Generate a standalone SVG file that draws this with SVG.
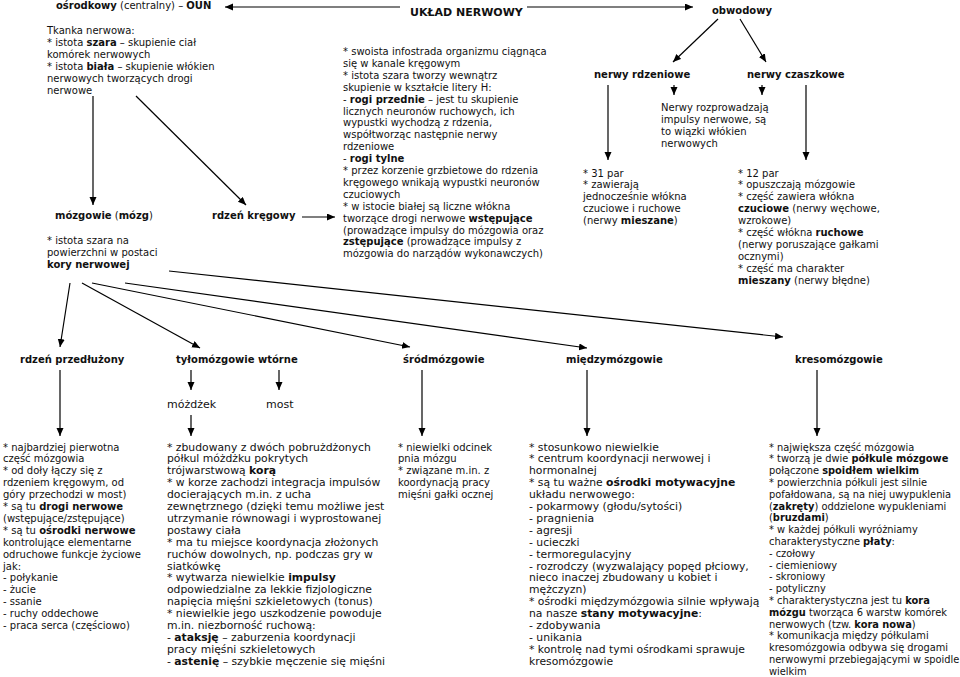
<svg xmlns="http://www.w3.org/2000/svg" width="960" height="677" viewBox="0 0 960 677">
<defs>
<marker id="ah" markerUnits="userSpaceOnUse" markerWidth="9" markerHeight="8" refX="8" refY="3.5" orient="auto">
<path d="M0,0 L8,3.5 L0,7 Z" fill="#000"/>
</marker>
<style>
text{font-family:"DejaVu Sans",Verdana,sans-serif;font-size:10px;fill:#111}
.b{font-weight:bold}
.h{font-weight:bold;font-size:10px}
.big{font-weight:bold;font-size:11px}
.m{font-size:11px}
.c11{font-size:10.8px}
.c99{font-size:9.85px}
.con line{stroke:#000;stroke-width:1.2;fill:none;marker-end:url(#ah)}
</style>
</defs>
<rect width="960" height="677" fill="#fff"/>

<g id="uklad"><text x="410" y="16" class="big">UKŁAD NERWOWY</text></g>
<g id="oun"><text x="56" y="9"><tspan class="b">ośrodkowy</tspan> (centralny) – <tspan class="b">OUN</tspan></text></g>
<g id="obwodowy"><text x="712" y="14" class="h">obwodowy</text></g>

<g id="tkanka"><text>
<tspan x="47" y="34">Tkanka nerwowa:</tspan>
<tspan x="47" y="45.9">* istota <tspan class="b">szara</tspan> – skupienie ciał</tspan>
<tspan x="47" y="57.8">komórek nerwowych</tspan>
<tspan x="47" y="69.7">* istota <tspan class="b">biała</tspan> – skupienie włókien</tspan>
<tspan x="47" y="81.6">nerwowych tworzących drogi</tspan>
<tspan x="47" y="93.5">nerwowe</tspan>
</text></g>

<g id="mozgowie"><text x="55" y="219"><tspan class="b">mózgowie</tspan> (<tspan class="b">mózg</tspan>)</text>
<text>
<tspan x="47" y="244">* istota szara na</tspan>
<tspan x="47" y="255.9">powierzchni w postaci</tspan>
<tspan x="47" y="267.8" class="b">kory nerwowej</tspan>
</text></g>

<g id="rdzen"><text x="212" y="219" class="h">rdzeń kręgowy</text>
<text>
<tspan x="343" y="55">* swoista infostrada organizmu ciągnąca</tspan>
<tspan x="343" y="66.9">się w kanale kręgowym</tspan>
<tspan x="343" y="78.8">* istota szara tworzy wewnątrz</tspan>
<tspan x="343" y="90.7">skupienie w kształcie litery H:</tspan>
<tspan x="343" y="102.6">- <tspan class="b">rogi przednie</tspan> – jest tu skupienie</tspan>
<tspan x="343" y="114.5">licznych neuronów ruchowych, ich</tspan>
<tspan x="343" y="126.4">wypustki wychodzą z rdzenia,</tspan>
<tspan x="343" y="138.3">współtworząc następnie nerwy</tspan>
<tspan x="343" y="150.2">rdzeniowe</tspan>
<tspan x="343" y="162.1">- <tspan class="b">rogi tylne</tspan></tspan>
<tspan x="343" y="174">* przez korzenie grzbietowe do rdzenia</tspan>
<tspan x="343" y="185.9">kręgowego wnikają wypustki neuronów</tspan>
<tspan x="343" y="197.8">czuciowych</tspan>
<tspan x="343" y="209.7">* w istocie białej są liczne włókna</tspan>
<tspan x="343" y="221.6">tworzące drogi nerwowe <tspan class="b">wstępujące</tspan></tspan>
<tspan x="343" y="233.5">(prowadzące impulsy do mózgowia oraz</tspan>
<tspan x="343" y="245.4"><tspan class="b">zstępujące</tspan> (prowadzące impulsy z</tspan>
<tspan x="343" y="257.3">mózgowia do narządów wykonawczych)</tspan>
</text></g>

<g id="nerwy-rdzeniowe"><text x="594" y="78" class="h">nerwy rdzeniowe</text>
<text>
<tspan x="583" y="176.5">* 31 par</tspan>
<tspan x="583" y="188.4">* zawierają</tspan>
<tspan x="583" y="200.3">jednocześnie włókna</tspan>
<tspan x="583" y="212.2">czuciowe i ruchowe</tspan>
<tspan x="583" y="224.1">(nerwy <tspan class="b">mieszane</tspan>)</tspan>
</text></g>

<g id="nerwy-czaszkowe"><text x="747" y="78" class="h">nerwy czaszkowe</text>
<text>
<tspan x="738" y="176.5">* 12 par</tspan>
<tspan x="738" y="188.4">* opuszczają mózgowie</tspan>
<tspan x="738" y="200.3">* część zawiera włókna</tspan>
<tspan x="738" y="212.2"><tspan class="b">czuciowe</tspan> (nerwy węchowe,</tspan>
<tspan x="738" y="224.1">wzrokowe)</tspan>
<tspan x="738" y="236">* część włókna <tspan class="b">ruchowe</tspan></tspan>
<tspan x="738" y="247.9">(nerwy poruszające gałkami</tspan>
<tspan x="738" y="259.8">ocznymi)</tspan>
<tspan x="738" y="271.7">* część ma charakter</tspan>
<tspan x="738" y="283.6"><tspan class="b">mieszany</tspan> (nerwy błędne)</tspan>
</text></g>

<g id="nerwy-opis"><text>
<tspan x="661" y="111">Nerwy rozprowadzają</tspan>
<tspan x="661" y="122.9">impulsy nerwowe, są</tspan>
<tspan x="661" y="134.8">to wiązki włókien</tspan>
<tspan x="661" y="146.7">nerwowych</tspan>
</text></g>

<g id="rdzen-przedluzony"><text x="20" y="363" class="h">rdzeń przedłużony</text>
<text>
<tspan x="3" y="450.5">* najbardziej pierwotna</tspan>
<tspan x="3" y="462.4">część mózgowia</tspan>
<tspan x="3" y="474.3">* od doły łączy się z</tspan>
<tspan x="3" y="486.2">rdzeniem kręgowym, od</tspan>
<tspan x="3" y="498.1">góry przechodzi w most)</tspan>
<tspan x="3" y="510">* są tu <tspan class="b">drogi nerwowe</tspan></tspan>
<tspan x="3" y="521.9">(wstępujące/zstępujące)</tspan>
<tspan x="3" y="533.8">* są tu <tspan class="b">ośrodki nerwowe</tspan></tspan>
<tspan x="3" y="545.7">kontrolujące elementarne</tspan>
<tspan x="3" y="557.6">odruchowe funkcje życiowe</tspan>
<tspan x="3" y="569.5">jak:</tspan>
<tspan x="3" y="581.4">- połykanie</tspan>
<tspan x="3" y="593.3">- żucie</tspan>
<tspan x="3" y="605.2">- ssanie</tspan>
<tspan x="3" y="617.1">- ruchy oddechowe</tspan>
<tspan x="3" y="629">- praca serca (częściowo)</tspan>
</text></g>

<g id="tylomozgowie"><text x="176" y="363" class="h">tyłomózgowie wtórne</text></g>
<g id="most"><text x="266" y="408" class="m">most</text></g>
<g id="mozdzek"><text x="167" y="408" class="m">móżdżek</text>
<text class="c11">
<tspan x="167" y="450.5">* zbudowany z dwóch pobrużdżonych</tspan>
<tspan x="167" y="462.4">półkul móżdżku pokrytych</tspan>
<tspan x="167" y="474.3">trójwarstwową <tspan class="b">korą</tspan></tspan>
<tspan x="167" y="486.2">* w korze zachodzi integracja impulsów</tspan>
<tspan x="167" y="498.1">docierających m.in. z ucha</tspan>
<tspan x="167" y="510">zewnętrznego (dzięki temu możliwe jest</tspan>
<tspan x="167" y="521.9">utrzymanie równowagi i wyprostowanej</tspan>
<tspan x="167" y="533.8">postawy ciała</tspan>
<tspan x="167" y="545.7">* ma tu miejsce koordynacja złożonych</tspan>
<tspan x="167" y="557.6">ruchów dowolnych, np. podczas gry w</tspan>
<tspan x="167" y="569.5">siatkówkę</tspan>
<tspan x="167" y="581.4">* wytwarza niewielkie <tspan class="b">impulsy</tspan></tspan>
<tspan x="167" y="593.3">odpowiedzialne za lekkie fizjologiczne</tspan>
<tspan x="167" y="605.2">napięcia mięśni szkieletowych (tonus)</tspan>
<tspan x="167" y="617.1">* niewielkie jego uszkodzenie powoduje</tspan>
<tspan x="167" y="629">m.in. niezborność ruchową:</tspan>
<tspan x="167" y="640.9">- <tspan class="b">ataksję</tspan> – zaburzenia koordynacji</tspan>
<tspan x="167" y="652.8">pracy mięśni szkieletowych</tspan>
<tspan x="167" y="664.7">- <tspan class="b">astenię</tspan> – szybkie męczenie się mięśni</tspan>
</text></g>

<g id="srodmozgowie"><text x="403" y="363" class="h">śródmózgowie</text>
<text>
<tspan x="398" y="450.5">* niewielki odcinek</tspan>
<tspan x="398" y="462.4">pnia mózgu</tspan>
<tspan x="398" y="474.3">* związane m.in. z</tspan>
<tspan x="398" y="486.2">koordynacją pracy</tspan>
<tspan x="398" y="498.1">mięśni gałki ocznej</tspan>
</text></g>

<g id="miedzymozgowie"><text x="566" y="363" class="h">międzymózgowie</text>
<text class="c11">
<tspan x="529" y="450.5">* stosunkowo niewielkie</tspan>
<tspan x="529" y="462.4">* centrum koordynacji nerwowej i</tspan>
<tspan x="529" y="474.3">hormonalnej</tspan>
<tspan x="529" y="486.2">* są tu ważne <tspan class="b">ośrodki motywacyjne</tspan></tspan>
<tspan x="529" y="498.1">układu nerwowego:</tspan>
<tspan x="529" y="510">- pokarmowy (głodu/sytości)</tspan>
<tspan x="529" y="521.9">- pragnienia</tspan>
<tspan x="529" y="533.8">- agresji</tspan>
<tspan x="529" y="545.7">- ucieczki</tspan>
<tspan x="529" y="557.6">- termoregulacyjny</tspan>
<tspan x="529" y="569.5">- rozrodczy (wyzwalający popęd płciowy,</tspan>
<tspan x="529" y="581.4">nieco inaczej zbudowany u kobiet i</tspan>
<tspan x="529" y="593.3">mężczyzn)</tspan>
<tspan x="529" y="605.2">* ośrodki międzymózgowia silnie wpływają</tspan>
<tspan x="529" y="617.1">na nasze <tspan class="b">stany motywacyjne</tspan>:</tspan>
<tspan x="529" y="629">- zdobywania</tspan>
<tspan x="529" y="640.9">- unikania</tspan>
<tspan x="529" y="652.8">* kontrolę nad tymi ośrodkami sprawuje</tspan>
<tspan x="529" y="664.7">kresomózgowie</tspan>
</text></g>

<g id="kresomozgowie"><text x="795" y="363" class="h">kresomózgowie</text>
<text class="c99">
<tspan x="769" y="450.5">* największa część mózgowia</tspan>
<tspan x="769" y="462.3">* tworzą je dwie <tspan class="b">półkule mózgowe</tspan></tspan>
<tspan x="769" y="474.1">połączone <tspan class="b">spoidłem wielkim</tspan></tspan>
<tspan x="769" y="485.9">* powierzchnia półkuli jest silnie</tspan>
<tspan x="769" y="497.7">pofałdowana, są na niej uwypuklenia</tspan>
<tspan x="769" y="509.5">(<tspan class="b">zakręty</tspan>) oddzielone wypukleniami</tspan>
<tspan x="769" y="521.3">(<tspan class="b">bruzdami</tspan>)</tspan>
<tspan x="769" y="533.1">* w każdej półkuli wyróżniamy</tspan>
<tspan x="769" y="544.9">charakterystyczne <tspan class="b">płaty</tspan>:</tspan>
<tspan x="769" y="556.7">- czołowy</tspan>
<tspan x="769" y="568.5">- ciemieniowy</tspan>
<tspan x="769" y="580.3">- skroniowy</tspan>
<tspan x="769" y="592.1">- potyliczny</tspan>
<tspan x="769" y="603.9">* charakterystyczna jest tu <tspan class="b">kora</tspan></tspan>
<tspan x="769" y="615.7"><tspan class="b">mózgu</tspan> tworząca 6 warstw komórek</tspan>
<tspan x="769" y="627.5">nerwowych (tzw. <tspan class="b">kora nowa</tspan>)</tspan>
<tspan x="769" y="639.3">* komunikacja między półkulami</tspan>
<tspan x="769" y="651.1">kresomózgowia odbywa się drogami</tspan>
<tspan x="769" y="662.9">nerwowymi przebiegającymi w spoidle</tspan>
<tspan x="769" y="674.7">wielkim</tspan>
</text></g>

<g id="connectors" class="con">
<line x1="400" y1="7" x2="225" y2="7"/>
<line x1="527" y1="7" x2="693" y2="7"/>
<line x1="718" y1="19" x2="673" y2="62"/>
<line x1="740" y1="19" x2="766" y2="62"/>
<line x1="608" y1="85" x2="608" y2="160"/>
<line x1="674" y1="85" x2="674" y2="95"/>
<line x1="762" y1="85" x2="762" y2="95"/>
<line x1="806" y1="85" x2="806" y2="160"/>
<line x1="93" y1="96" x2="93" y2="205"/>
<line x1="136" y1="96" x2="246" y2="205"/>
<line x1="302" y1="217" x2="335" y2="217"/>
<line x1="70" y1="283" x2="60" y2="347"/>
<line x1="82" y1="283" x2="200" y2="348"/>
<line x1="92" y1="283" x2="410" y2="347"/>
<line x1="125" y1="283" x2="587" y2="348"/>
<line x1="169" y1="271" x2="783" y2="337"/>
<line x1="191" y1="370" x2="191" y2="390"/>
<line x1="279" y1="370" x2="279" y2="390"/>
<line x1="60" y1="370" x2="60" y2="436"/>
<line x1="191" y1="415" x2="191" y2="436"/>
<line x1="422" y1="370" x2="422" y2="436"/>
<line x1="587" y1="370" x2="587" y2="436"/>
<line x1="817" y1="370" x2="817" y2="436"/>
</g>
</svg>
